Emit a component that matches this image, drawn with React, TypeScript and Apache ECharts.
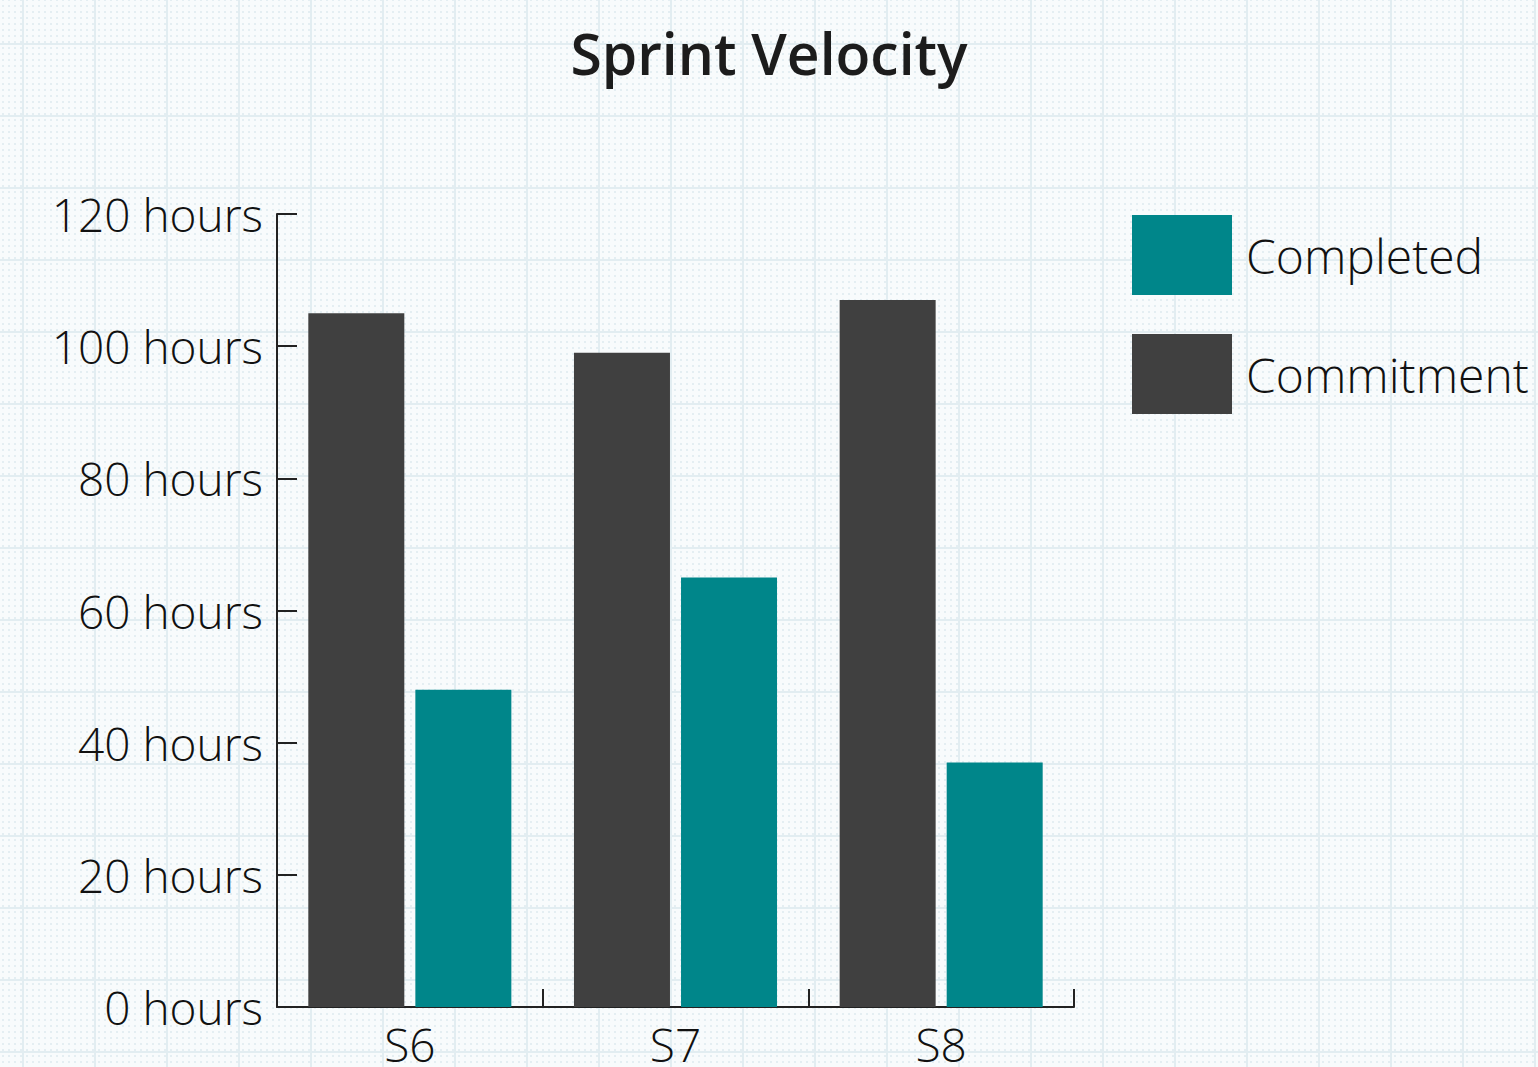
import React, { useEffect, useRef } from "react";
import * as echarts from "echarts";

const categories = ["S6", "S7", "S8"];
const commitment = [105, 99, 107];
const completed = [48, 65, 37];
const yMin = 0;
const yMax = 120;
const yInterval = 20;
const unit = "hours";
const titleText = "Sprint Velocity";
const legendOrder = ["Completed", "Commitment"];

const FONT = "'Open Sans', Lato, sans-serif";

function bgImage(): string {
  const svg =
    "<svg xmlns='http://www.w3.org/2000/svg' width='72' height='72'>" +
    "<defs><pattern id='d' width='6' height='6' patternUnits='userSpaceOnUse' x='4' y='4'>" +
    "<rect width='2' height='2' fill='#e4eef2'/></pattern></defs>" +
    "<rect width='72' height='72' fill='#f8fbfc'/>" +
    "<rect width='72' height='72' fill='url(#d)'/>" +
    "<rect x='0' y='0' width='72' height='2' fill='#e2edf1'/>" +
    "<rect x='0' y='0' width='2' height='72' fill='#e2edf1'/>" +
    "</svg>";
  return "url(\"data:image/svg+xml," + encodeURIComponent(svg) + "\")";
}

export default function App() {
  const ref = useRef<HTMLDivElement>(null);

  useEffect(() => {
    document.body.style.margin = "0";
    if (!ref.current) return;
    const chart = echarts.init(ref.current, undefined, { renderer: "svg" });
    chart.setOption({
      animation: false,
      backgroundColor: "transparent",
      title: {
        text: titleText,
        left: "center",
        top: 19,
        textStyle: {
          fontFamily: FONT,
          fontSize: 57,
          fontWeight: 600,
          color: "#1c1c1c",
        },
      },
      legend: {
        data: legendOrder,
        orient: "vertical",
        left: 1132,
        top: 215,
        padding: 0,
        itemWidth: 100,
        itemHeight: 80,
        itemGap: 39,
        icon: "rect",
        textStyle: {
          fontFamily: FONT,
          fontSize: 48,
          fontWeight: 300,
          color: "#111",
          padding: [0, 0, 0, 9],
        },
      },
      grid: {
        left: 277,
        right: 464,
        top: 214,
        bottom: 59,
        containLabel: false,
      },
      xAxis: {
        type: "category",
        data: categories,
        axisLine: { show: true, lineStyle: { color: "#222", width: 2 } },
        axisTick: {
          show: true,
          inside: true,
          length: 18,
          lineStyle: { color: "#222", width: 2 },
        },
        axisLabel: {
          fontFamily: FONT,
          fontSize: 46,
          fontWeight: 300,
          color: "#111",
          margin: 14,
        },
        splitLine: { show: false },
      },
      yAxis: {
        type: "value",
        min: yMin,
        max: yMax,
        interval: yInterval,
        axisLine: { show: true, lineStyle: { color: "#222", width: 2 } },
        axisTick: {
          show: true,
          inside: true,
          length: 20,
          lineStyle: { color: "#222", width: 2 },
        },
        axisLabel: {
          fontFamily: FONT,
          fontSize: 46,
          fontWeight: 300,
          color: "#111",
          margin: 14,
          formatter: (v: number) => v + " " + unit,
        },
        splitLine: { show: false },
      },
      series: [
        {
          name: "Commitment",
          type: "bar",
          data: commitment,
          barWidth: 96,
          barGap: "11.5%",
          itemStyle: { color: "#404040" },
        },
        {
          name: "Completed",
          type: "bar",
          data: completed,
          barWidth: 96,
          barGap: "11.5%",
          itemStyle: { color: "#00868a" },
        },
      ],
    });
    return () => chart.dispose();
  }, []);

  return (
    <div
      style={{
        width: 1538,
        height: 1067,
        backgroundColor: "#f8fbfc",
        backgroundImage: bgImage(),
        backgroundPosition: "22px 43px",
      }}
    >
      <div ref={ref} style={{ width: 1538, height: 1067 }} />
    </div>
  );
}
